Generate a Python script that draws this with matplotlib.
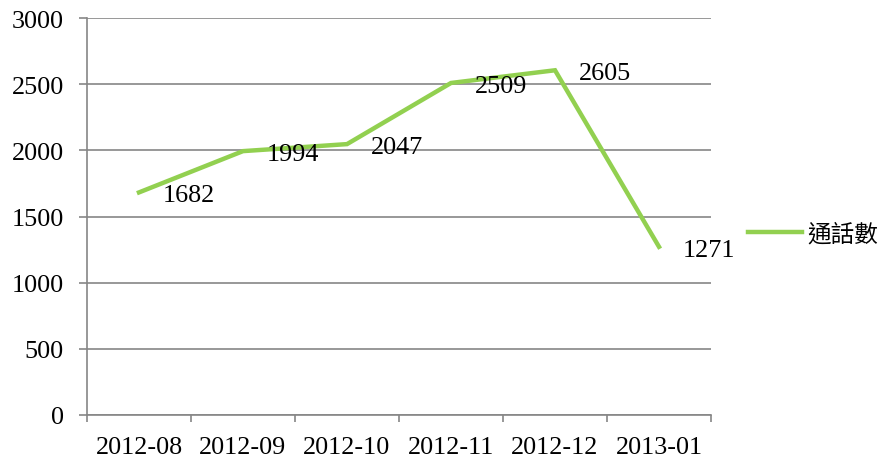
import matplotlib.pyplot as plt
import numpy as np

months = ['2012-08', '2012-09', '2012-10', '2012-11', '2012-12', '2013-01']
calls = [1682, 1994, 2047, 2509, 2605, 1271]
series_name = '通話數'

plt.rcParams['font.family'] = ['Liberation Serif', 'Noto Sans CJK TC']

fig = plt.figure(figsize=(8.91, 4.6), dpi=100)
ax = fig.add_axes([87 / 891, 1 - 416 / 460, (711 - 87) / 891, (416 - 19) / 460])

x = np.arange(len(months))
ax.plot(x, calls, color='#92D050', linewidth=3.2, label=series_name,
        solid_joinstyle='miter', zorder=3)
for xi, v in zip(x, calls):
    ax.annotate(str(v), (xi, v), xytext=(17, -2), textcoords='offset points',
                ha='left', va='center', fontsize=18.8, color='black', zorder=4)

ax.set_xlim(-0.5, len(months) - 0.5)
ax.set_ylim(0, 3000)
ax.set_yticks(np.arange(0, 3001, 500))
ax.set_xticks(x)
ax.set_xticklabels(months)
ax.set_xticks(np.arange(-0.5, len(months)), minor=True)

grid_c = '#868686'
ax.grid(axis='y', color=grid_c, linewidth=1.2)
ax.set_axisbelow(True)
for s in ['top', 'right']:
    ax.spines[s].set_visible(False)
for s in ['left', 'bottom']:
    ax.spines[s].set_color(grid_c)
    ax.spines[s].set_linewidth(1.2)

ax.tick_params(axis='y', length=5.8, width=1.2, color=grid_c, labelsize=18.8, pad=11)
ax.tick_params(axis='x', which='major', length=0, labelsize=18.8, pad=15)
ax.tick_params(axis='x', which='minor', length=5, width=1.2, color=grid_c)

leg = fig.legend(loc='center left', bbox_to_anchor=(748 / 891, 1 - 235 / 460),
                 frameon=False, borderpad=0, borderaxespad=0,
                 handlelength=2.3, handletextpad=0.2,
                 prop={'family': 'Noto Sans CJK TC', 'size': 17})

fig.savefig('out.png', dpi=100)
